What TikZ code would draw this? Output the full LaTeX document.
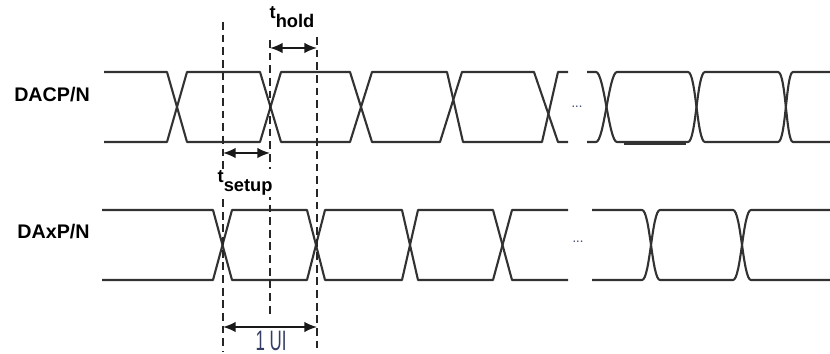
\documentclass[tikz,border=0pt]{standalone}
\usepackage{fontspec}
\newfontfamily\labelfont{Liberation Sans}
\usepackage{tikz}
\usetikzlibrary{arrows.meta,calc,positioning}
\definecolor{wavegray}{RGB}{50,50,50}
\definecolor{uiblue}{RGB}{52,62,100}

\begin{document}
\begin{tikzpicture}[x=0.025cm, y=-0.025cm, line join=round]
   \useasboundingbox (0,0) rectangle (830,354);
   % signal names
   \begin{scope}[every node/.style={font=\labelfont\bfseries\fontsize{14}{16}\selectfont}]
    \node (dacp) at (52,95) {DACP/N};
    \node (daxp) at (53.5,232) {DAxP/N};
   \end{scope}
   % DACP/N eye
   \begin{scope}[draw=wavegray, line width=1.5pt]
    \draw (104,72) -- (167,72) -- (187,142) -- (260,142) -- (281,72) -- (350,72) -- (372,142)
          -- (440,142) -- (462,72) -- (534,72) -- (558,142) -- (568,142);
    \draw (104,142) -- (167,142) -- (187,72) -- (260,72) -- (281,142) -- (350,142) -- (372,72)
          -- (447,72) -- (463,142) -- (542,142) -- (558,72) -- (568,72);
    \draw (587,72) -- (596,72) .. controls (604,72) and (609,142) .. (617,142) -- (688,142)
          .. controls (696,142) and (697,72) .. (705,72) -- (778,72)
          .. controls (786,72) and (786,142) .. (793,142) -- (830,142);
    \draw (587,142) -- (596,142) .. controls (604,142) and (609,72) .. (617,72) -- (688,72)
          .. controls (696,72) and (697,142) .. (705,142) -- (778,142)
          .. controls (786,142) and (786,72) .. (793,72) -- (830,72);
    \draw [line width=2.6pt] (624,143) -- (686,143);
   \end{scope}
   % DAxP/N eye
   \begin{scope}[draw=wavegray, line width=1.5pt]
    \draw (102,210) -- (213,210) -- (232,280) -- (307,280) -- (325,210) -- (402,210) -- (418,280)
          -- (493,280) -- (512,210) -- (568,210);
    \draw (102,280) -- (213,280) -- (232,210) -- (307,210) -- (325,280) -- (402,280) -- (418,210)
          -- (493,210) -- (512,280) -- (568,280);
    \draw (592,210) -- (642,210) .. controls (650,210) and (652,280) .. (660,280) -- (733,280)
          .. controls (741,280) and (743,210) .. (751,210) -- (830,210);
    \draw (592,280) -- (642,280) .. controls (650,280) and (652,210) .. (660,210) -- (733,210)
          .. controls (741,210) and (743,280) .. (751,280) -- (830,280);
   \end{scope}
   \node (dots1) [text=uiblue, font=\scriptsize\bfseries] at (577,107) {...};
   \node (dots2) [text=uiblue, font=\scriptsize\bfseries] at (578,242) {...};
   % sampling marks
   \coordinate (m1top) at (223,22);
   \coordinate (m1bot) at (223,352);
   \coordinate (m2top) at (270,40);
   \coordinate (m2bot) at (270,315);
   \coordinate (m3top) at (317,37);
   \coordinate (m3bot) at (317,352);
   \begin{scope}[black!85, line width=1.1pt, dash pattern=on 5.5pt off 3.5pt]
    \draw (m1top) -- (m1bot);
    \draw (m2top) -- (m2bot);
    \draw (m3top) -- (m3bot);
   \end{scope}
   \coordinate (holdl) at (270,48);
   \coordinate (holdr) at (317,48);
   \coordinate (setupl) at (223,153);
   \coordinate (setupr) at (270,153);
   \coordinate (uil) at (223,327);
   \coordinate (uir) at (317,327);
   \begin{scope}[every edge/.style={draw=black!90, line width=1.3pt,
                 {Latex[length=9pt,width=7.5pt]}-{Latex[length=9pt,width=7.5pt]}}]
    \draw (holdl) edge (holdr);
    \draw (setupl) edge (setupr);
    \draw (uil) edge (uir);
   \end{scope}
   % timing labels
   \begin{scope}[every node/.style={font=\labelfont\bfseries\fontsize{13}{15}\selectfont, anchor=base west, inner sep=1pt}]
    \node (thold) at (268,28) {\raisebox{7pt}{t}hold};
    \node (tsetup) [fill=white] at (216,192) {\raisebox{7pt}{t}setup};
   \end{scope}
   \node (ui) [text=uiblue, font=\labelfont\fontsize{20}{22}\selectfont, anchor=base, inner sep=0pt]
     at (271,350) {\scalebox{0.6}[1]{1 UI}};
\end{tikzpicture}
\end{document}
